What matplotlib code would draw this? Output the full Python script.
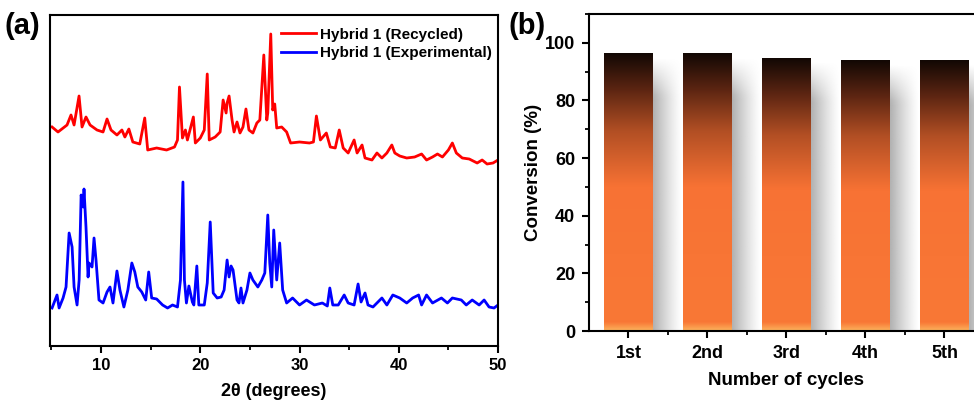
import numpy as np
import matplotlib
matplotlib.use("Agg")
import matplotlib.pyplot as plt
from matplotlib.colors import LinearSegmentedColormap
from matplotlib.ticker import MultipleLocator, FixedLocator

plt.rcParams['font.family'] = ['Liberation Sans', 'DejaVu Sans']
plt.rcParams['font.weight'] = 'bold'

# (a) XRD patterns, 2theta (degrees) and intensity (a.u., offset)
tt_recycled = [5.06, 5.66, 6.57, 6.97, 7.28, 7.78, 8.08, 8.48, 8.89, 9.59, 10.2, 10.6, 11.0,
               11.6, 12.1, 12.4, 12.8, 13.2, 13.9, 14.4, 14.7, 15.6, 16.6, 17.4, 17.7, 17.9,
               18.2, 18.5, 18.7, 19.3, 19.5, 20.0, 20.4, 20.7, 20.9, 21.5, 22.0, 22.3, 22.6,
               22.7, 22.9, 23.2, 23.4, 23.7, 24.0, 24.3, 24.6, 24.9, 25.3, 25.7, 26.0, 26.4,
               26.7, 26.8, 27.1, 27.3, 27.5, 27.7, 28.2, 28.7, 29.1, 30.0, 31.0, 31.4, 31.7,
               32.1, 32.7, 33.1, 33.6, 34.0, 34.4, 34.9, 35.5, 35.8, 36.3, 36.6, 37.3, 37.8,
               38.3, 38.8, 39.3, 39.6, 40.1, 40.8, 41.6, 42.3, 42.8, 43.4, 43.9, 44.4, 45.0,
               45.4, 45.8, 46.4, 47.1, 47.9, 48.4, 48.9, 49.5, 50.0]
int_recycled = [219, 214, 221, 231, 221, 250, 219, 229, 221, 216, 214, 227, 216,
                211, 216, 209, 217, 204, 202, 228, 196, 198, 196, 199, 206, 259,
                208, 216, 206, 229, 203, 208, 216, 272, 206, 209, 214, 246, 233,
                243, 250, 226, 214, 224, 213, 219, 237, 216, 213, 223, 226, 291,
                226, 233, 312, 236, 242, 218, 219, 214, 203, 204, 203, 204, 230,
                206, 213, 199, 198, 216, 198, 193, 206, 193, 201, 188, 186, 193,
                188, 193, 201, 193, 190, 188, 189, 192, 186, 189, 192, 189, 196,
                203, 193, 188, 187, 183, 186, 182, 183, 186]

tt_experimental = [5.06, 5.56, 5.77, 6.17, 6.47, 6.78, 7.08, 7.28, 7.58, 7.79, 7.99, 8.20, 8.28,
                   8.48, 8.69, 8.79, 9.09, 9.29, 9.49, 9.79, 10.2, 10.6, 10.9, 11.2, 11.4, 11.6,
                   11.9, 12.3, 12.7, 13.1, 13.4, 13.7, 14.1, 14.5, 14.8, 15.1, 15.6, 16.2, 16.7,
                   17.2, 17.7, 18.0, 18.25, 18.4, 18.6, 18.85, 19.2, 19.35, 19.65, 19.85, 20.4,
                   20.7, 21.0, 21.3, 21.7, 22.1, 22.4, 22.7, 22.9, 23.1, 23.3, 23.7, 23.9, 24.1,
                   24.3, 24.7, 25.0, 25.3, 25.8, 26.2, 26.5, 26.8, 27.0, 27.2, 27.4, 27.7, 28.0,
                   28.3, 28.7, 29.3, 30.0, 30.7, 31.5, 32.3, 32.8, 33.05, 33.35, 33.9, 34.5, 34.9,
                   35.5, 35.9, 36.2, 36.6, 36.9, 37.4, 38.3, 38.8, 39.4, 40.1, 40.8, 41.4, 42.0,
                   42.3, 42.8, 43.4, 44.3, 44.9, 45.4, 46.3, 46.8, 47.4, 48.1, 48.6, 49.1, 49.6,
                   50.0]
int_experimental = [38, 51, 38, 48, 59, 113, 99, 59, 41, 66, 151, 139, 157,
                    119, 69, 83, 79, 108, 86, 46, 43, 54, 59, 43, 59, 75,
                    56, 39, 56, 83, 74, 59, 54, 46, 74, 48, 47, 41, 38,
                    41, 39, 66, 164, 66, 43, 60, 44, 41, 80, 41, 41,
                    63, 124, 53, 48, 49, 56, 86, 69, 80, 76, 46, 43, 58,
                    43, 56, 73, 66, 59, 66, 73, 131, 83, 59, 116, 66, 103,
                    56, 43, 48, 41, 46, 41, 43, 40, 58, 41, 41, 51, 43,
                    41, 62, 44, 53, 41, 39, 48, 41, 51, 48, 43, 48, 51,
                    41, 51, 43, 48, 43, 48, 46, 41, 46, 41, 46, 39, 38,
                    41]

# (b) recycling test
cycles = ['1st', '2nd', '3rd', '4th', '5th']
conversion = [96.3, 96.3, 94.7, 93.8, 93.8]

fig = plt.figure(figsize=(9.74, 4.0), dpi=100)

# ---------- panel (a)
ax1 = fig.add_axes([0.0513, 0.135, 0.46, 0.8275])
ax1.plot(tt_recycled, int_recycled, color='#ff0000', lw=2.0, label='Hybrid 1 (Recycled)')
ax1.plot(tt_experimental, int_experimental, color='#0000ff', lw=2.0, label='Hybrid 1 (Experimental)')
ax1.set_xlim(4.85, 50)
ax1.set_ylim(0, 331)
ax1.set_yticks([])
ax1.xaxis.set_major_locator(MultipleLocator(10))
ax1.xaxis.set_minor_locator(MultipleLocator(5))
ax1.tick_params(axis='x', which='major', direction='out', length=5, width=1.5, labelsize=12, pad=4)
ax1.tick_params(axis='x', which='minor', direction='out', length=3, width=1.3)
for s in ax1.spines.values():
    s.set_linewidth(1.5)
ax1.set_xlabel('2θ (degrees)', fontsize=13, fontweight='bold', labelpad=7)
leg = ax1.legend(loc='upper right', frameon=False, fontsize=11, handlelength=2.3,
                 handletextpad=0.25, labelspacing=0.3, borderaxespad=0.0,
                 bbox_to_anchor=(1.0, 0.98))
for t in leg.get_texts():
    t.set_fontweight('bold')
fig.text(0.005, 0.915, '(a)', fontsize=21, fontweight='bold')

# ---------- panel (b)
ax2 = fig.add_axes([0.6047, 0.1725, 0.4055, 0.7925])
x = np.arange(1, len(cycles) + 1)
w = 0.61
cmap = LinearSegmentedColormap.from_list('bar', [
    (0.0, '#fcb25c'), (0.03, '#f97836'), (0.52, '#f77234'),
    (0.72, '#b24f24'), (0.87, '#5c2512'), (1.0, '#120804')])
for xi, h in zip(x, conversion):
    # soft drop shadow at the right of each bar
    nx, ny = 40, 60
    alpha_x = np.linspace(0.8, 0.0, nx) ** 1.2
    fade_top = np.clip(np.linspace(0.0, 1.0, ny) * 7, 0, 1)
    sh = np.zeros((ny, nx, 4))
    sh[..., :3] = 0.6
    sh[..., 3] = fade_top[:, None] * alpha_x[None, :]
    ax2.imshow(sh, extent=[xi + w / 2, xi + w / 2 + 0.36, 0, h - 1], origin='upper',
               aspect='auto', zorder=1, interpolation='bilinear')
    grad = np.linspace(0, 1, 256).reshape(-1, 1)
    ax2.imshow(grad, extent=[xi - w / 2, xi + w / 2, 0, h], origin='lower', cmap=cmap,
               aspect='auto', zorder=2, interpolation='bilinear')
ax2.set_xlim(0.5, 5.5)
ax2.set_ylim(0, 110)
ax2.xaxis.set_major_locator(FixedLocator(x))
ax2.xaxis.set_minor_locator(FixedLocator(x[:-1] + 0.5))
ax2.set_xticklabels(cycles)
ax2.yaxis.set_major_locator(MultipleLocator(20))
ax2.yaxis.set_minor_locator(MultipleLocator(10))
ax2.tick_params(which='major', direction='out', length=5, width=1.5, labelsize=13, pad=5)
ax2.tick_params(which='minor', direction='out', length=3, width=1.3)
for s in ax2.spines.values():
    s.set_linewidth(1.5)
ax2.set_xlabel('Number of cycles', fontsize=13.5, fontweight='bold', labelpad=7)
ax2.set_ylabel('Conversion (%)', fontsize=13.5, fontweight='bold', labelpad=2)
fig.text(0.522, 0.915, '(b)', fontsize=21, fontweight='bold')

fig.savefig('out.png', dpi=100)
